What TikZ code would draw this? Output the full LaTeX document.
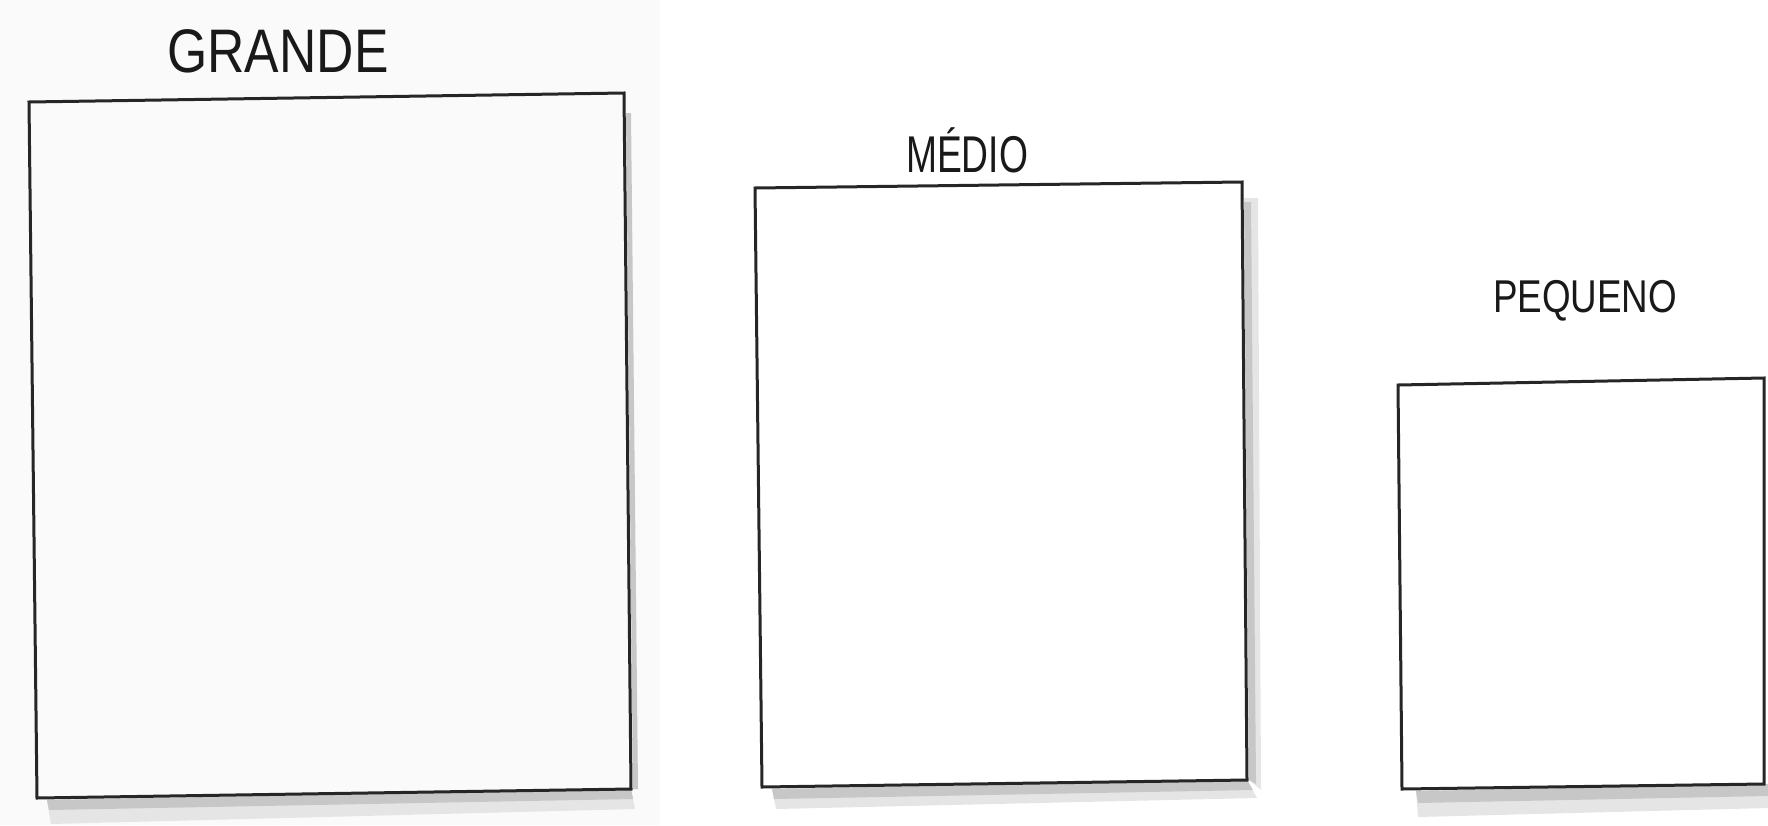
\documentclass[tikz,border=0pt]{standalone}
\usepackage{fontspec}
\usetikzlibrary{calc}
\setmainfont{Liberation Sans}
\newfontfamily\fgrande[FakeStretch=0.84]{Liberation Sans}
\newfontfamily\fmedio[FakeStretch=0.72]{Liberation Sans}
\newfontfamily\fpequeno[FakeStretch=0.80]{Liberation Sans}
\begin{document}
\begin{tikzpicture}[x=1pt,y=-1pt,
  boxline/.style={draw=black!85,line width=3pt,line join=miter},
  shadowband/.style={fill=black!22,draw=none},
  shadowfaint/.style={fill=black!10,draw=none},
  label/.style={inner sep=0pt,anchor=base,text=black!90}]
\useasboundingbox (0,0) rectangle (1768,825);
\fill[black!2] (0,0) rectangle (660,825);
% GRANDE box
\coordinate (g1) at (29,102);
\coordinate (g2) at (624,93);
\coordinate (g3) at (631,789);
\coordinate (g4) at (37,798);
\fill[shadowfaint] ($(g4)+(10,2)$) -- ($(g3)+(0,0)$) -- ($(g3)+(4,20)$) -- ($(g4)+(14,26)$) -- cycle;
\fill[shadowband] ($(g4)+(10,2)$) -- ($(g3)+(0,0)$) -- ($(g3)+(2,10)$) -- ($(g4)+(12,12)$) -- cycle;
\fill[shadowband] ($(g2)+(2,20)$) -- ($(g2)+(7,20)$) -- ($(g3)+(7,0)$) -- ($(g3)+(2,0)$) -- cycle;
\draw[boxline] (g1) -- (g2) -- (g3) -- (g4) -- cycle;
% MEDIO box
\coordinate (m1) at (755,188);
\coordinate (m2) at (1242,182);
\coordinate (m3) at (1247,780);
\coordinate (m4) at (762,787);
\fill[shadowfaint] ($(m4)+(10,2)$) -- ($(m3)+(0,0)$) -- ($(m3)+(10,18)$) -- ($(m4)+(14,22)$) -- cycle;
\fill[shadowband] ($(m4)+(10,2)$) -- ($(m3)+(0,0)$) -- ($(m3)+(6,10)$) -- ($(m4)+(12,12)$) -- cycle;
\fill[shadowfaint] ($(m2)+(2,16)$) -- ($(m2)+(16,16)$) -- ($(m3)+(14,10)$) -- ($(m3)+(2,0)$) -- cycle;
\fill[shadowband] ($(m2)+(2,20)$) -- ($(m2)+(9,20)$) -- ($(m3)+(9,4)$) -- ($(m3)+(2,0)$) -- cycle;
\draw[boxline] (m1) -- (m2) -- (m3) -- (m4) -- cycle;
% PEQUENO box
\coordinate (p1) at (1398,385);
\coordinate (p2) at (1764,378);
\coordinate (p3) at (1764,784);
\coordinate (p4) at (1402,789);
\fill[shadowfaint] ($(p4)+(14,2)$) -- ($(p3)+(4,0)$) -- ($(p3)+(4,24)$) -- ($(p4)+(16,28)$) -- cycle;
\fill[shadowband] ($(p4)+(14,2)$) -- ($(p3)+(4,0)$) -- ($(p3)+(4,12)$) -- ($(p4)+(16,14)$) -- cycle;
\draw[boxline] (p1) -- (p2) -- (p3) -- (p4) -- cycle;
% labels
\node[label,font=\fgrande\fontsize{61.5}{62}\selectfont] (tgrande) at (278,72) {GRANDE};
\node[label,font=\fmedio\fontsize{51.7}{52}\selectfont] (tmedio) at (967,172) {MÉDIO};
\node[label,font=\fpequeno\fontsize{46}{46}\selectfont] (tpequeno) at (1585,312) {PEQUENO};
\end{tikzpicture}
\end{document}
